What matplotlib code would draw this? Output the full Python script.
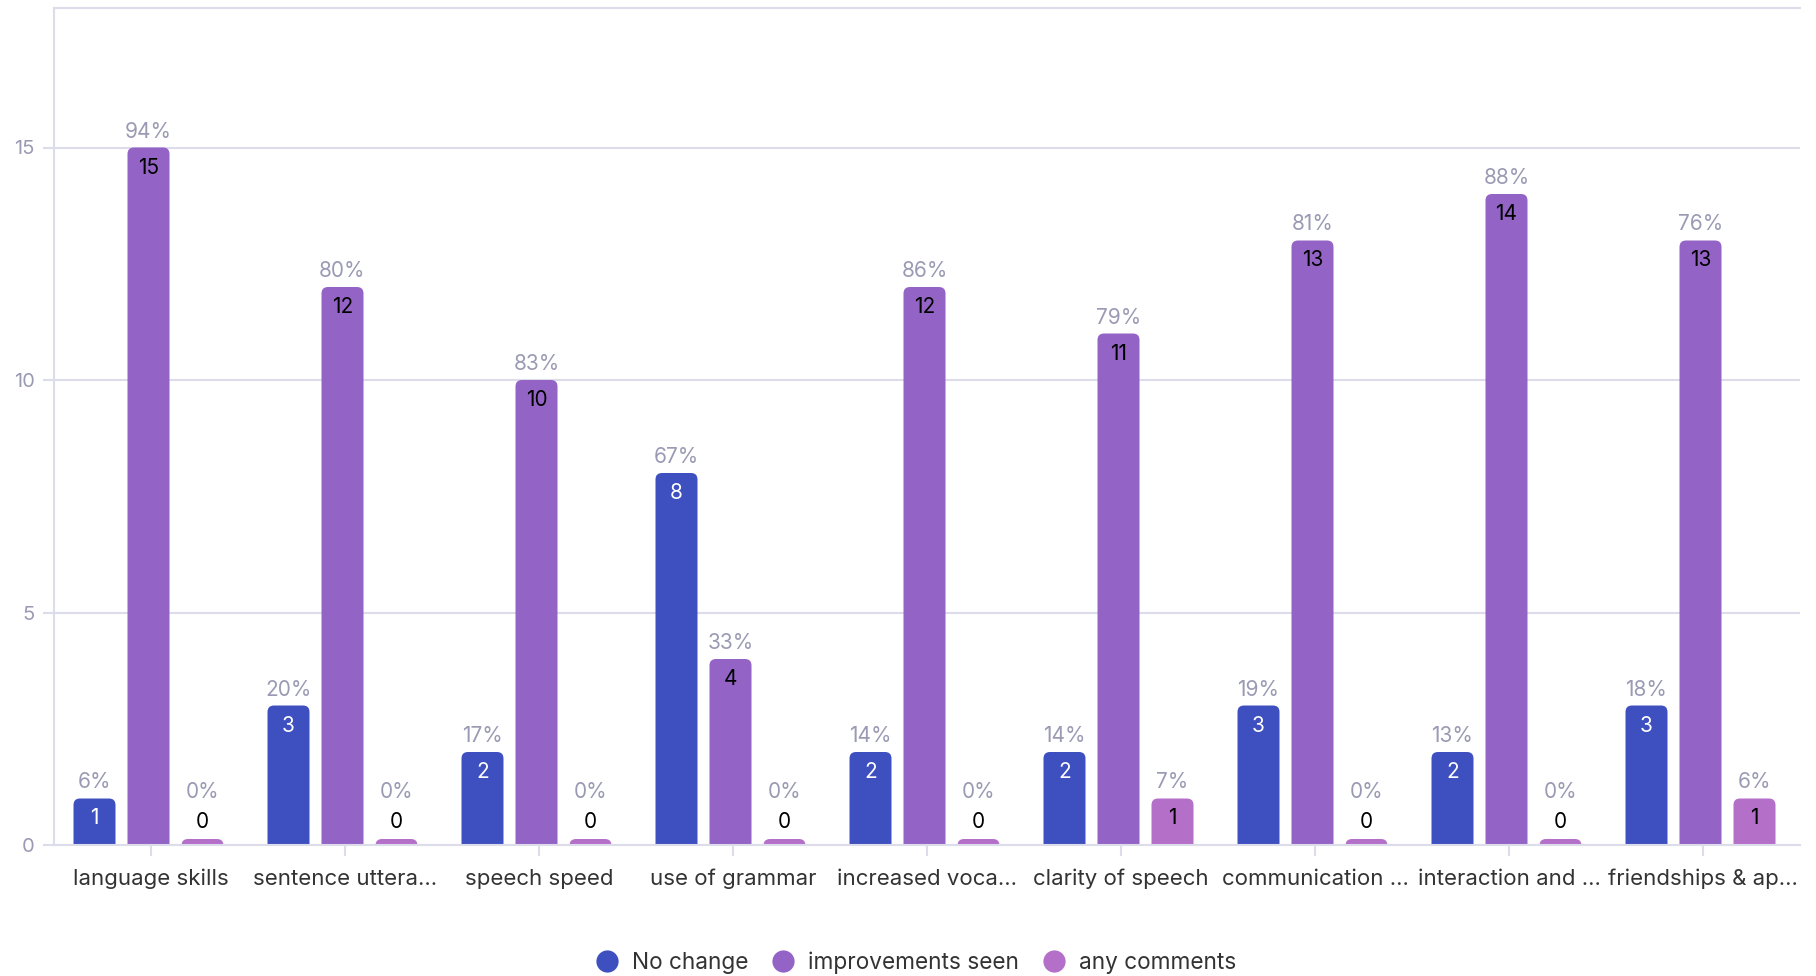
import math
import matplotlib
matplotlib.use("Agg")
import matplotlib.pyplot as plt
from matplotlib.patches import FancyBboxPatch
from matplotlib.lines import Line2D

plt.rcParams['font.family'] = ['Inter', 'DejaVu Sans']

categories = ["language skills", "sentence uttera...", "speech speed", "use of grammar",
              "increased voca...", "clarity of speech", "communication ...",
              "interaction and ...", "friendships & ap..."]
no_change = [1, 3, 2, 8, 2, 2, 3, 2, 3]
improvements = [15, 12, 10, 4, 12, 11, 13, 14, 13]
any_comments = [0, 0, 0, 0, 0, 1, 0, 0, 1]
series_names = ["No change", "improvements seen", "any comments"]
series_colors = ["#3e50bf", "#9364c6", "#b46fc8"]
count_colors = ["white", "black", "black"]
y_ticks = [0, 5, 10, 15]
y_max = 18

series = [no_change, improvements, any_comments]
totals = [sum(s[i] for s in series) for i in range(len(categories))]

W, H = 1816, 976
fig = plt.figure(figsize=(W / 100, H / 100), dpi=100)
ax = fig.add_axes([54 / W, 1 - 845 / H, (1800 - 54) / W, (845 - 8) / H])
ax.set_xlim(-0.5, len(categories) - 0.5)
ax.set_ylim(0, y_max)

grid_color = "#dcdcea"
for y in y_ticks[1:]:
    ax.axhline(y, color=grid_color, lw=1.5, zorder=0)
ax.spines["right"].set_visible(False)
for side in ["left", "top", "bottom"]:
    ax.spines[side].set_color(grid_color)
    ax.spines[side].set_linewidth(1.5)
ax.spines["bottom"].set_zorder(5)

ax.set_yticks(y_ticks)
ax.set_yticklabels([str(t) for t in y_ticks])
ax.set_xticks(range(len(categories)))
ax.set_xticklabels(categories)
ax.tick_params(axis="y", colors=grid_color, labelcolor="#9a9ab4", labelsize=14.5,
               length=8, width=1.5, pad=6)
ax.tick_params(axis="x", colors=grid_color, labelcolor="#333333", labelsize=16,
               length=8, width=1.5, pad=9)

# pixel scale of the data units
px_x = (1800 - 54) / len(categories)
px_y = (845 - 8) / y_max
aspect = px_x / px_y
radius_px = 6.5
bar_w = 42 / px_x
step = 54 / px_x
group_shift = -2.5 / px_x
stub = 6 / px_y

pct_color = "#9a9ab4"
for si, (vals, color) in enumerate(zip(series, series_colors)):
    for ci, v in enumerate(vals):
        xc = ci + group_shift + (si - 1) * step
        top = v if v > 0 else stub
        bottom = -radius_px / px_y * 2
        patch = FancyBboxPatch((xc - bar_w / 2, bottom), bar_w, top - bottom,
                               boxstyle=f"round,pad=0,rounding_size={radius_px / px_x}",
                               mutation_aspect=aspect, facecolor=color,
                               edgecolor="none", zorder=3, clip_on=True)
        ax.add_patch(patch)
        pct = math.floor(100 * v / totals[ci] + 0.5)
        if v > 0:
            ax.text(xc, v - 20 / px_y, str(v), ha="center", va="center",
                    color=count_colors[si], fontsize=15, zorder=6)
            ax.text(xc, v + 16 / px_y, f"{pct}%", ha="center", va="center",
                    color=pct_color, fontsize=15, zorder=6)
        else:
            ax.text(xc, 23 / px_y, str(v), ha="center", va="center",
                    color="black", fontsize=15, zorder=6)
            ax.text(xc, 53 / px_y, f"{pct}%", ha="center", va="center",
                    color=pct_color, fontsize=15, zorder=6)

handles = [Line2D([], [], marker="o", linestyle="none", markersize=16,
                  markerfacecolor=c, markeredgecolor="none") for c in series_colors]
fig.legend(handles, series_names, loc="center", bbox_to_anchor=(0.503, 1 - 963 / H),
           ncol=3, frameon=False, fontsize=16.3, handletextpad=0.4, columnspacing=0.85,
           handlelength=1.4, labelcolor="#333333")

fig.savefig("out.png", dpi=100, facecolor="white")
